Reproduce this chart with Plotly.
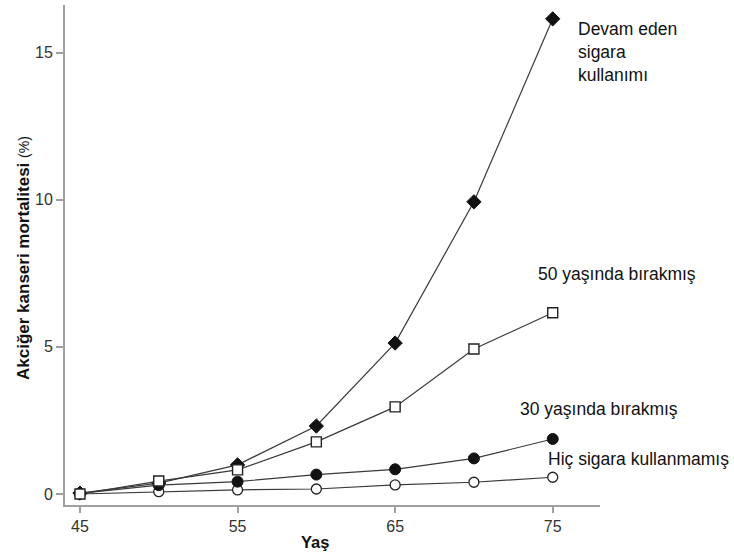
import plotly.graph_objects as go

ages = [45, 50, 55, 60, 65, 70, 75]

continuing = [0.03, 0.37, 0.99, 2.31, 5.13, 9.93, 16.15]
stopped_50 = [0.0, 0.44, 0.82, 1.77, 2.96, 4.93, 6.16]
stopped_30 = [0.02, 0.30, 0.42, 0.66, 0.84, 1.21, 1.87]
never = [0.0, 0.08, 0.14, 0.17, 0.31, 0.40, 0.57]

x_ticks = [45, 55, 65, 75]
y_ticks = [0, 5, 10, 15]

label_continuing = "Devam eden<br>sigara<br>kullanımı"
label_50 = "50 yaşında bırakmış"
label_30 = "30 yaşında bırakmış"
label_never = "Hiç sigara kullanmamış"

line_col = "#3a3a3a"
axis_col = "#a0a0a0"

# plot area in pixels: x 65..600, y 5..505
def px_x(p):
    return (p - 65) / 535


def px_y(p):
    return (505 - p) / 500


fig = go.Figure()

# drawing order matters: squares sit on top at 45
fig.add_trace(go.Scatter(x=ages, y=never, mode="lines+markers",
                         line=dict(color=line_col, width=1.2),
                         marker=dict(symbol="circle", size=10, color="white",
                                     line=dict(color="#222", width=1.3))))
fig.add_trace(go.Scatter(x=ages, y=stopped_30, mode="lines+markers",
                         line=dict(color=line_col, width=1.2),
                         marker=dict(symbol="circle", size=11, color="#111",
                                     line=dict(color="#111", width=1))))
fig.add_trace(go.Scatter(x=ages, y=continuing, mode="lines+markers",
                         line=dict(color=line_col, width=1.2),
                         marker=dict(symbol="diamond", size=11, color="#111",
                                     line=dict(color="#111", width=1))))
fig.add_trace(go.Scatter(x=ages, y=stopped_50, mode="lines+markers",
                         line=dict(color=line_col, width=1.2),
                         marker=dict(symbol="square", size=10, color="white",
                                     line=dict(color="#222", width=1.4))))

lbl_font = dict(family="Liberation Sans, Arial", size=17.5, color="#111")
notes = [(576, 52, label_continuing, "left"), (536, 274, label_50, "left"),
         (518, 409, label_30, "left"), (731, 459, label_never, "right")]
for nx, ny, txt, anc in notes:
    fig.add_annotation(x=px_x(nx), y=px_y(ny), xref="paper", yref="paper",
                       text=txt, showarrow=False, xanchor=anc, yanchor="middle",
                       align="left", font=lbl_font)

fig.add_annotation(x=px_x(315), y=px_y(542), xref="paper", yref="paper",
                   text="Yaş", showarrow=False, xanchor="center", yanchor="middle",
                   font=dict(family="Liberation Sans, Arial", size=16.5,
                             color="#111", weight="bold"))
fig.add_annotation(x=px_x(23), y=px_y(258), xref="paper", yref="paper",
                   text="Akciğer kanseri mortalitesi "
                        "<span style='font-size:14px;font-weight:normal'>(%)</span>",
                   showarrow=False, textangle=-90, xanchor="center", yanchor="middle",
                   font=dict(family="Liberation Sans, Arial", size=17,
                             color="#111", weight="bold"))

tick_font = dict(family="Liberation Sans Narrow, Arial Narrow, Liberation Sans",
                 size=16, color="#333")
fig.update_xaxes(range=[44.05, 78.0], tickvals=x_ticks, showline=True,
                 linecolor=axis_col, linewidth=2, ticks="outside", ticklen=6,
                 tickcolor=axis_col, tickwidth=1.5, showgrid=False,
                 zeroline=False, tickfont=tick_font)
fig.update_yaxes(range=[-0.374, 16.62], tickvals=y_ticks, showline=True,
                 linecolor=axis_col, linewidth=2, ticks="outside", ticklen=7,
                 tickcolor=axis_col, tickwidth=1.5, showgrid=False,
                 zeroline=False, tickfont=tick_font)

fig.update_layout(width=734, height=559, showlegend=False,
                  plot_bgcolor="white", paper_bgcolor="white",
                  margin=dict(l=65, r=134, t=5, b=54))

# the page body has a default 8px margin; drop it so the figure sits at 0,0
fig.write_html("out.html", config={"displayModeBar": False},
               post_script="document.body.style.margin='0';")
